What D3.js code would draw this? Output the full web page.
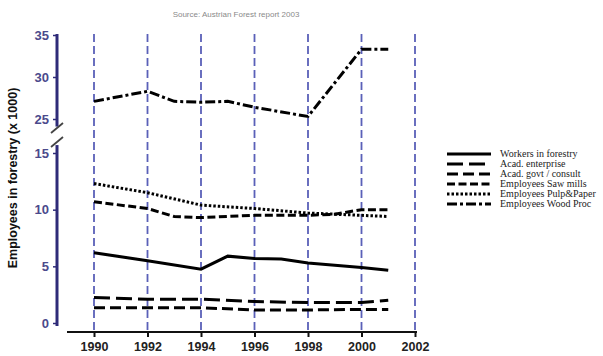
<!DOCTYPE html>
<html><head><meta charset="utf-8">
<script src="https://cdn.jsdelivr.net/npm/d3@7"></script>
<style>body{margin:0;background:#fff}svg{display:block}</style>
</head><body>
<script>
const xTicks = [1990,1992,1994,1996,1998,2000,2002];
const upperTicks = [25,30,35];
const lowerTicks = [0,5,10,15];

const workersYears = [1990,1992,1994,1995,1996,1997,1998,2000,2001];
const workersVals  = [6.2,5.5,4.75,5.9,5.7,5.65,5.3,4.9,4.65];
const enterpriseYears = [1990,1992,1994,1996,1998,2000,2001];
const enterpriseVals  = [2.25,2.1,2.1,1.9,1.8,1.8,2.0];
const govtYears = [1990,1992,1994,1996,1998,2000,2001];
const govtVals  = [1.35,1.35,1.35,1.15,1.15,1.2,1.2];
const sawYears = [1990,1992,1993,1994,1996,1998,1999,2000,2001];
const sawVals  = [10.7,10.1,9.4,9.3,9.5,9.5,9.6,10.0,10.0];
const pulpYears = [1990,1992,1994,1996,1998,2000,2001];
const pulpVals  = [12.3,11.5,10.4,10.1,9.7,9.5,9.4];
const woodYears = [1990,1992,1993,1994,1995,1996,1998,2000,2001];
const woodVals  = [27.1,28.3,27.1,27.0,27.1,26.4,25.3,33.3,33.3];

const seriesNames = ["Workers in forestry","Acad. enterprise","Acad. govt / consult","Employees Saw mills","Employees Pulp&Paper","Employees Wood Proc"];

const W=603,H=356;
const svg=d3.select("body").append("svg").attr("width",W).attr("height",H);

const x=d3.scaleLinear().domain([1990,2002]).range([94,415]);
const yUp=d3.scaleLinear().domain([25,35]).range([119,35]);
const yLo=d3.scaleLinear().domain([0,15]).range([323,153]);

svg.append("text").attr("x",236).attr("y",17).attr("text-anchor","middle")
  .attr("font-family","Arial, Liberation Sans, sans-serif").attr("font-size",8).attr("fill","#8a8a8a")
  .text("Source: Austrian Forest report 2003");

svg.append("g").selectAll("line").data(xTicks).join("line")
  .attr("x1",d=>x(d)).attr("x2",d=>x(d)).attr("y1",34).attr("y2",330)
  .attr("stroke","#5a60b8").attr("stroke-width",1.8).attr("stroke-dasharray","8,4");

const axUp=svg.append("g").attr("transform","translate(57,0)")
  .call(d3.axisLeft(yUp).tickValues(upperTicks).tickSize(4).tickPadding(4));
const axLo=svg.append("g").attr("transform","translate(57,0)")
  .call(d3.axisLeft(yLo).tickValues(lowerTicks).tickSize(4).tickPadding(4));
[axUp,axLo].forEach(a=>{
  a.select(".domain").remove();
  a.selectAll(".tick line").attr("stroke","#2e2b78").attr("stroke-width",1.5);
  a.selectAll(".tick text").attr("font-family","Arial, Liberation Sans, sans-serif")
   .attr("font-size",13).attr("font-weight","bold").attr("fill","#4b4a8c");
});
svg.append("line").attr("x1",57).attr("x2",57).attr("y1",34).attr("y2",yUp(24.1))
  .attr("stroke","#2e2b78").attr("stroke-width",3);
svg.append("line").attr("x1",57).attr("x2",57).attr("y1",yLo(15.7)).attr("y2",326)
  .attr("stroke","#2e2b78").attr("stroke-width",3);
[128,142].forEach(cy=>{
  svg.append("line").attr("x1",51).attr("y1",cy+5).attr("x2",63).attr("y2",cy-5)
   .attr("stroke","#444").attr("stroke-width",1.8);
});

const ax=svg.append("g").attr("transform","translate(0,332)")
  .call(d3.axisBottom(x).tickValues(xTicks).tickFormat(d3.format("d")).tickSize(5).tickPadding(5));
ax.select(".domain").remove();
ax.selectAll(".tick line").attr("stroke","#111").attr("stroke-width",2);
ax.selectAll(".tick text").attr("font-family","Arial, Liberation Sans, sans-serif")
  .attr("font-size",12.5).attr("font-weight","bold").attr("fill","#222");
svg.append("line").attr("x1",67).attr("x2",417).attr("y1",332).attr("y2",332)
  .attr("stroke","#111").attr("stroke-width",2.2);

svg.append("text").attr("transform","translate(17,178) rotate(-90)").attr("text-anchor","middle")
  .attr("font-family","Arial, Liberation Sans, sans-serif").attr("font-size",12.5).attr("font-weight","bold")
  .attr("fill","#111").text("Employees in forestry (x 1000)");

const series=[
  {name:seriesNames[0],years:workersYears,vals:workersVals,scale:yLo,dash:null},
  {name:seriesNames[1],years:enterpriseYears,vals:enterpriseVals,scale:yLo,dash:"16,6"},
  {name:seriesNames[2],years:govtYears,vals:govtVals,scale:yLo,dash:"11,5"},
  {name:seriesNames[3],years:sawYears,vals:sawVals,scale:yLo,dash:"8,3.5"},
  {name:seriesNames[4],years:pulpYears,vals:pulpVals,scale:yLo,dash:"2.5,2"},
  {name:seriesNames[5],years:woodYears,vals:woodVals,scale:yUp,dash:"10,3,3,3"}
];
series.forEach(s=>{
  const pts=s.years.map((yr,i)=>[yr,s.vals[i]]);
  const line=d3.line().x(d=>x(d[0])).y(d=>s.scale(d[1]));
  svg.append("path").attr("d",line(pts)).attr("fill","none").attr("stroke","#000")
    .attr("stroke-width",3).attr("stroke-dasharray",s.dash);
});

const lg=svg.append("g");
series.forEach((s,i)=>{
  const yy=154+i*10;
  lg.append("line").attr("x1",447).attr("x2",491).attr("y1",yy).attr("y2",yy)
    .attr("stroke","#000").attr("stroke-width",3.2).attr("stroke-dasharray",s.dash);
  lg.append("text").attr("x",500).attr("y",yy+3.3).attr("font-family","Liberation Serif, Times New Roman, serif")
    .attr("font-size",10).attr("fill","#222").text(s.name);
});
</script>
</body></html>
